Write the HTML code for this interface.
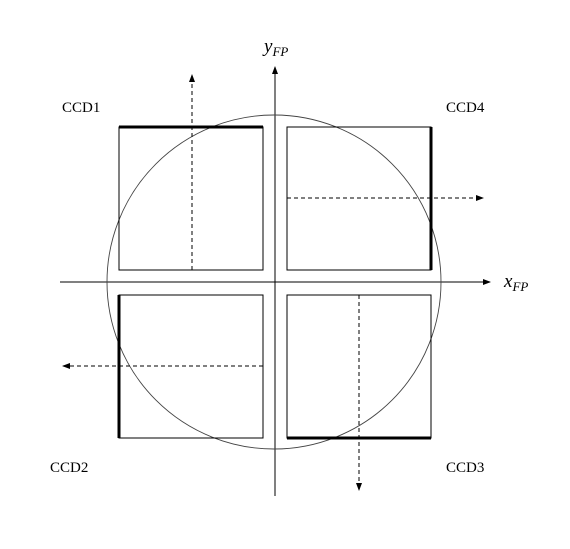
<!DOCTYPE html>
<html><head><meta charset="utf-8"><style>
html,body{margin:0;padding:0;background:#fff;}
svg text{font-family:"Liberation Serif",serif;fill:#000;}
</style></head><body>
<svg width="570" height="544" viewBox="0 0 570 544">
<defs>
<marker id="ah" markerWidth="8" markerHeight="8" refX="7" refY="4" orient="auto" markerUnits="userSpaceOnUse">
<path d="M0,1 L8,4 L0,7 z" fill="#000"/></marker>
</defs>
<g>
<line x1="60" y1="282" x2="490" y2="282" stroke="#000" stroke-width="1" marker-end="url(#ah)"/>
<line x1="275" y1="496" x2="275" y2="67" stroke="#000" stroke-width="1" marker-end="url(#ah)"/>
<text x="504" y="287" font-size="19" font-style="italic">x<tspan font-size="13" dy="4">FP</tspan></text>
<text x="264" y="52" font-size="19" font-style="italic">y<tspan font-size="13" dy="4">FP</tspan></text>
</g>
<circle cx="274" cy="282" r="167" fill="none" stroke="#444" stroke-width="0.9"/>
<g fill="none" stroke="#000" stroke-width="1">
<rect x="119" y="127" width="144" height="143"/>
<rect x="287" y="127" width="144" height="143"/>
<rect x="119" y="295" width="144" height="143"/>
<rect x="287" y="295" width="144" height="143"/>
</g>
<g stroke="#000" stroke-width="3">
<line x1="119" y1="127" x2="263" y2="127"/>
<line x1="431" y1="127" x2="431" y2="270"/>
<line x1="119" y1="295" x2="119" y2="438"/>
<line x1="287" y1="438" x2="431" y2="438"/>
</g>
<g stroke="#000" stroke-width="1" stroke-dasharray="4,3">
<line x1="192" y1="270" x2="192" y2="75" marker-end="url(#ah)"/>
<line x1="287" y1="198" x2="483" y2="198" marker-end="url(#ah)"/>
<line x1="263" y1="366" x2="63" y2="366" marker-end="url(#ah)"/>
<line x1="359" y1="295" x2="359" y2="490" marker-end="url(#ah)"/>
</g>
<text x="62" y="112" font-size="15">CCD1</text>
<text x="446" y="112" font-size="15">CCD4</text>
<text x="50" y="472" font-size="15">CCD2</text>
<text x="446" y="472" font-size="15">CCD3</text>
</svg>
</body></html>
